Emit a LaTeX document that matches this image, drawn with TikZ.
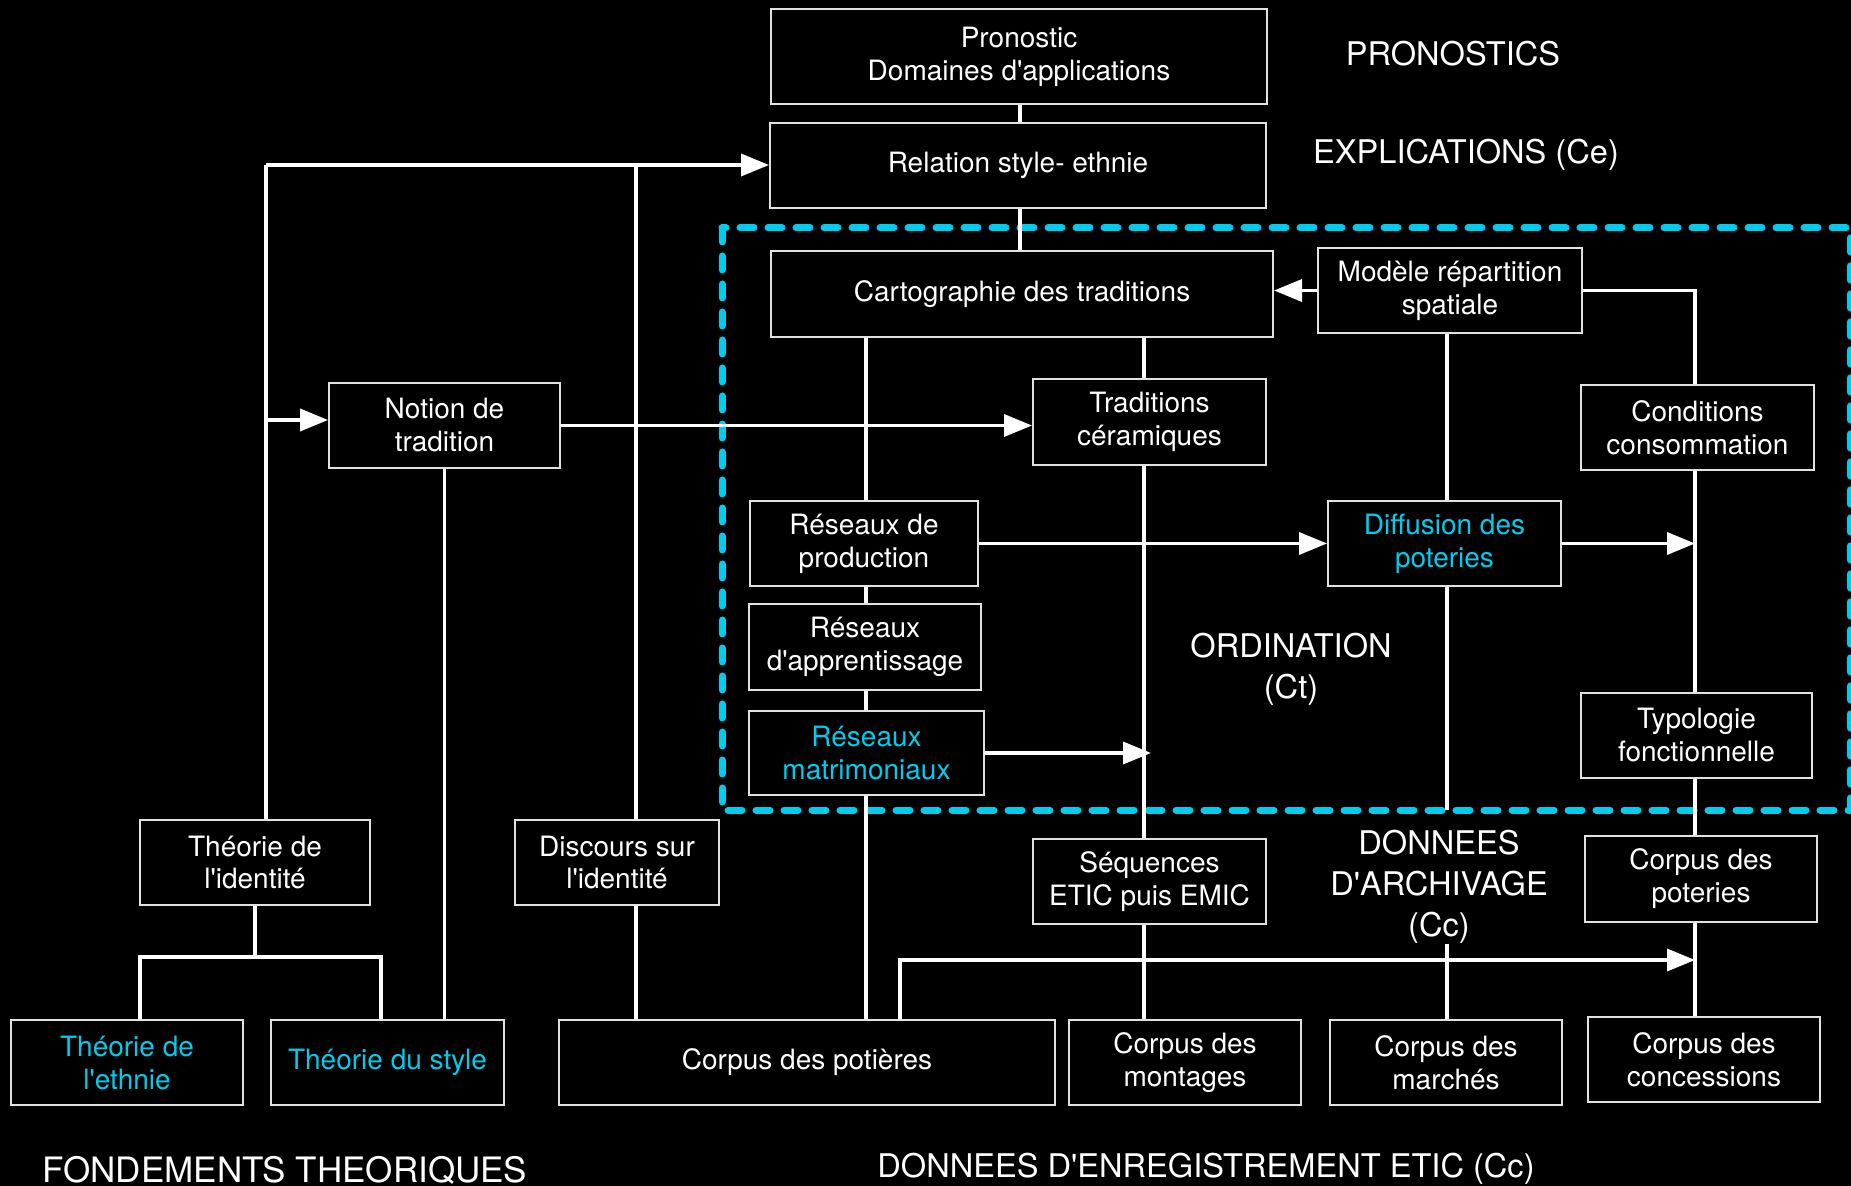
\documentclass[tikz,border=0pt]{standalone}
\usepackage{fontspec}
\newfontfamily\helv{TeX Gyre Heros}
\usetikzlibrary{arrows.meta,positioning}
\definecolor{ciel}{RGB}{0,204,238}
\definecolor{bord}{RGB}{225,225,225}
\tikzset{>={Triangle[length=14pt,width=11pt]}}
\tikzset{boite/.style={draw=bord, line width=1pt, text=white, align=center, inner sep=0pt,
    minimum width=116pt, minimum height=42.5pt, font=\helv\fontsize{14}{16.5}\selectfont}}
\tikzset{titre/.style={text=white, align=center, inner sep=0pt, font=\helv\fontsize{16.3}{20.5}\selectfont}}
\tikzset{trait/.style={draw=white, line width=1.8pt}}
\tikzset{fleche/.style={trait, ->}}
\tikzset{tirets/.style={draw=ciel, line width=3.5pt, line cap=round, dash pattern=on 7pt off 7pt}}

\begin{document}
\begin{tikzpicture}[x=0.5pt,y=-0.5pt]
      \fill[black] (0,0) rectangle (1851,1186);
      \useasboundingbox (0,0) rectangle (1851,1186);
      \draw[tirets] (722,228) rectangle (1850,810);

      \node[boite, minimum width=248pt, minimum height=47.5pt] (pron) at (1019,56.5) {Pronostic\\Domaines d'applications};
      \node[boite, minimum width=248pt] (rel) at (1018,165.5) {Relation style- ethnie};
      \node[boite, minimum width=251pt, minimum height=43pt] (carto) at (1022,294) {Cartographie des traditions};
      \node[boite, minimum width=132pt] (modele) at (1450,290.5) {Modèle répartition\\spatiale};
      \node[boite, minimum width=115.5pt] (notion) at (444.5,425.5) {Notion de\\tradition};
      \node[boite, minimum width=116.5pt, minimum height=43pt] (trad) at (1149.5,422) {Traditions\\céramiques};
      \node[boite, minimum width=116.5pt] (cond) at (1697.5,427.5) {Conditions\\consommation};
      \node[boite, minimum width=114pt] (prod) at (864,543.5) {Réseaux de\\production};
      \node[boite, minimum width=116.5pt, text=ciel] (diff) at (1444.5,543.5) {Diffusion des\\poteries};
      \node[boite, minimum height=43pt] (appr) at (865,647) {Réseaux\\d'apprentissage};
      \node[boite, minimum width=117.5pt, minimum height=42pt, text=ciel] (matri) at (866.5,753) {Réseaux\\matrimoniaux};
      \node[boite, minimum width=115.5pt] (typo) at (1696.5,735.5) {Typologie\\fonctionnelle};
      \node[boite, minimum width=115pt] (ident) at (255,862.5) {Théorie de\\l'identité};
      \node[boite, minimum width=102pt] (disc) at (617,862.5) {Discours sur\\l'identité};
      \node[boite, minimum width=116.5pt] (seq) at (1149.5,881.5) {Séquences\\ETIC puis EMIC};
      \node[boite, minimum height=43pt] (cpot) at (1701,879) {Corpus des\\poteries};
      \node[boite, text=ciel] (ethn) at (127,1062.5) {Théorie de\\l'ethnie};
      \node[boite, minimum width=116.5pt, text=ciel] (style) at (387.5,1062.5) {Théorie du style};
      \node[boite, minimum width=248pt] (potieres) at (807,1062.5) {Corpus des potières};
      \node[boite] (mont) at (1185,1062.5) {Corpus des\\montages};
      \node[boite] (march) at (1446,1062.5) {Corpus des\\marchés};
      \node[boite] (conc) at (1704,1059.5) {Corpus des\\concessions};

      \node[titre] (prono) at (1453,54) {PRONOSTICS};
      \node[titre] (expli) at (1466,155) {EXPLICATIONS (Ce)};
      \node[titre] (ordin) at (1291,669) {ORDINATION\\(Ct)};
      \node[titre] (archiv) at (1439,887) {DONNEES\\D'ARCHIVAGE\\(Cc)};
      \node[titre, font=\helv\fontsize{17.5}{20.5}\selectfont] (fond) at (285,1170) {FONDEMENTS THEORIQUES};
      \node[titre] (enreg) at (1206,1169) {DONNEES D'ENREGISTREMENT ETIC (Cc)};

      \coordinate (j1) at (266,165);
      \coordinate (j2) at (636,165);
      \coordinate (j3) at (266,420);
      \coordinate (axeR) at (1020,0);
      \coordinate (axeP) at (866,0);
      \coordinate (axeT) at (1144,0);
      \coordinate (axeD) at (1447,0);
      \coordinate (axeC) at (1695,0);
      \coordinate (basD) at (1447,810);
      \coordinate (fG) at (140,957);
      \coordinate (fD) at (381,957);
      \coordinate (retour) at (900,960);

      \draw[trait] (pron.south -| axeR) -- (rel.north -| axeR);
      \draw[trait] (rel.south -| axeR) -- (carto.north -| axeR);
      \draw[trait] (ident.north -| j1) -- (j1);
      \draw[fleche] (j1) -- (j1 -| rel.west);
      \draw[fleche] (j3) -- (j3 -| notion.west);
      \draw[trait] (disc.north -| j2) -- (j2);
      \draw[fleche] (notion.east) -- (notion.east -| trad.west);
      \draw[trait] (notion.south) -- (notion.south |- style.north);
      \draw[trait] (carto.south -| axeP) -- (prod.north -| axeP);
      \draw[trait] (prod.south -| axeP) -- (appr.north -| axeP);
      \draw[trait] (appr.south -| axeP) -- (matri.north -| axeP);
      \draw[trait] (matri.south -| axeP) -- (potieres.north -| axeP);
      \draw[trait] (carto.south -| axeT) -- (trad.north -| axeT);
      \draw[trait] (trad.south -| axeT) -- (seq.north -| axeT);
      \draw[trait] (seq.south -| axeT) -- (mont.north -| axeT);
      \draw[fleche] (matri.east) -- ([xshift=3.5pt]matri.east -| axeT);
      \draw[fleche] (modele.west) -- (modele.west -| carto.east);
      \draw[trait] (modele.east) -| (cond.north -| axeC);
      \draw[trait] (modele.south -| axeD) -- (diff.north -| axeD);
      \draw[trait] (diff.south -| axeD) -- (basD);
      \draw[fleche] (prod.east) -- (prod.east -| diff.west);
      \draw[fleche] (diff.east) -- (diff.east -| axeC);
      \draw[trait] (cond.south -| axeC) -- (typo.north -| axeC);
      \draw[trait] (typo.south -| axeC) -- (cpot.north -| axeC);
      \draw[trait] (cpot.south -| axeC) -- (conc.north -| axeC);
      \draw[trait] (ident.south) -- (ident.south |- fG);
      \draw[trait] (ethn.north -| fG) -- (fG) -- (fD) -- (style.north -| fD);
      \draw[trait] (disc.south -| j2) -- (potieres.north -| j2);
      \draw[fleche] (potieres.north -| retour) -- (retour) -- (retour -| axeC);
      \draw[trait] (archiv.south -| axeD) -- (march.north -| axeD);
    \end{tikzpicture}
\end{document}
